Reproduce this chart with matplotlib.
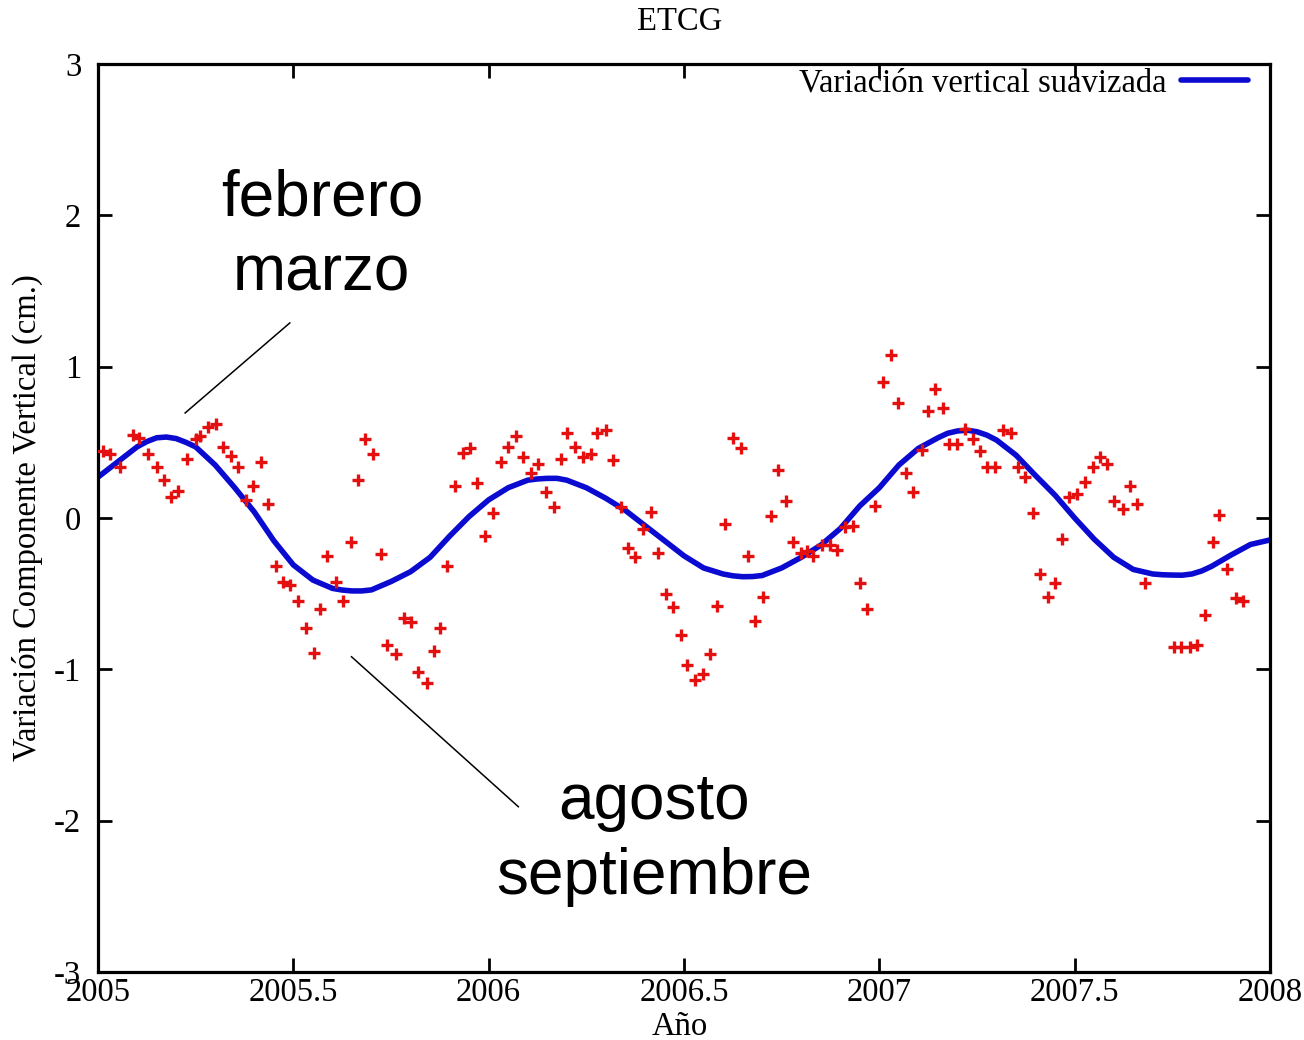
import matplotlib
matplotlib.use("Agg")
import matplotlib.pyplot as plt

# weekly vertical variation (cm)
obs_year = [
    2005.014, 2005.031, 2005.056, 2005.090, 2005.106, 2005.129, 2005.150, 2005.169,
    2005.186, 2005.206, 2005.227, 2005.251, 2005.261, 2005.282, 2005.302, 2005.321,
    2005.340, 2005.359, 2005.379, 2005.398, 2005.417, 2005.436, 2005.455, 2005.474,
    2005.491, 2005.513, 2005.532, 2005.553, 2005.568, 2005.587, 2005.609, 2005.628,
    2005.647, 2005.666, 2005.683, 2005.705, 2005.724, 2005.739, 2005.763, 2005.782,
    2005.800, 2005.820, 2005.841, 2005.860, 2005.875, 2005.894, 2005.914, 2005.934,
    2005.952, 2005.971, 2005.991, 2006.012, 2006.031, 2006.050, 2006.070, 2006.089,
    2006.108, 2006.127, 2006.147, 2006.166, 2006.184, 2006.201, 2006.221, 2006.241,
    2006.261, 2006.278, 2006.300, 2006.318, 2006.338, 2006.357, 2006.375, 2006.394,
    2006.415, 2006.434, 2006.454, 2006.473, 2006.492, 2006.508, 2006.528, 2006.548,
    2006.567, 2006.585, 2006.605, 2006.625, 2006.645, 2006.663, 2006.682, 2006.702,
    2006.722, 2006.741, 2006.761, 2006.780, 2006.799, 2006.815, 2006.831, 2006.853,
    2006.874, 2006.892, 2006.912, 2006.932, 2006.951, 2006.969, 2006.989, 2007.009,
    2007.029, 2007.049, 2007.068, 2007.087, 2007.108, 2007.125, 2007.143, 2007.162,
    2007.179, 2007.200, 2007.219, 2007.239, 2007.258, 2007.276, 2007.296, 2007.317,
    2007.336, 2007.356, 2007.373, 2007.393, 2007.411, 2007.433, 2007.450, 2007.467,
    2007.486, 2007.507, 2007.526, 2007.546, 2007.565, 2007.584, 2007.601, 2007.623,
    2007.642, 2007.660, 2007.680, 2007.753, 2007.772, 2007.794, 2007.812, 2007.834,
    2007.853, 2007.870, 2007.891, 2007.913, 2007.930,
]
obs_value = [
    0.44, 0.42, 0.34, 0.55, 0.53, 0.42, 0.34, 0.25,
    0.14, 0.18, 0.39, 0.52, 0.54, 0.60, 0.62, 0.47,
    0.41, 0.34, 0.12, 0.21, 0.37, 0.09, -0.32, -0.42,
    -0.44, -0.55, -0.73, -0.89, -0.60, -0.25, -0.42, -0.55,
    -0.16, 0.25, 0.52, 0.42, -0.24, -0.84, -0.90, -0.66,
    -0.69, -1.02, -1.09, -0.88, -0.73, -0.32, 0.21, 0.43,
    0.46, 0.23, -0.12, 0.03, 0.37, 0.47, 0.54, 0.40,
    0.30, 0.36, 0.17, 0.07, 0.39, 0.56, 0.47, 0.40,
    0.42, 0.56, 0.58, 0.38, 0.07, -0.20, -0.26, -0.07,
    0.04, -0.23, -0.50, -0.59, -0.77, -0.97, -1.07, -1.03,
    -0.90, -0.58, -0.04, 0.53, 0.46, -0.25, -0.68, -0.52,
    0.01, 0.32, 0.11, -0.16, -0.23, -0.22, -0.25, -0.18,
    -0.18, -0.21, -0.06, -0.05, -0.43, -0.60, 0.08, 0.90,
    1.08, 0.76, 0.30, 0.17, 0.45, 0.71, 0.85, 0.73,
    0.49, 0.49, 0.59, 0.52, 0.44, 0.34, 0.34, 0.58,
    0.56, 0.34, 0.27, 0.03, -0.37, -0.52, -0.43, -0.14,
    0.14, 0.16, 0.24, 0.34, 0.40, 0.36, 0.11, 0.06,
    0.21, 0.09, -0.43, -0.85, -0.85, -0.85, -0.84, -0.64,
    -0.16, 0.02, -0.34, -0.53, -0.55,
]

# smoothed curve
smooth_year = [
    2005.00, 2005.05, 2005.10, 2005.125, 2005.15, 2005.175, 2005.20, 2005.225,
    2005.25, 2005.30, 2005.35, 2005.40, 2005.45, 2005.50, 2005.55, 2005.60,
    2005.625, 2005.65, 2005.675, 2005.70, 2005.75, 2005.80, 2005.85, 2005.90,
    2005.95, 2006.00, 2006.05, 2006.10, 2006.125, 2006.15, 2006.175, 2006.20,
    2006.25, 2006.30, 2006.35, 2006.40, 2006.45, 2006.50, 2006.55, 2006.60,
    2006.625, 2006.65, 2006.675, 2006.70, 2006.75, 2006.80, 2006.85, 2006.90,
    2006.95, 2007.00, 2007.05, 2007.10, 2007.15, 2007.175, 2007.20, 2007.225,
    2007.25, 2007.275, 2007.30, 2007.35, 2007.40, 2007.45, 2007.50, 2007.55,
    2007.60, 2007.65, 2007.70, 2007.725, 2007.75, 2007.775, 2007.80, 2007.825,
    2007.85, 2007.90, 2007.95, 2008.00,
]
smooth_value = [
    0.27, 0.37, 0.47, 0.505, 0.53, 0.535, 0.525, 0.50,
    0.47, 0.35, 0.20, 0.04, -0.15, -0.31, -0.41, -0.465,
    -0.476, -0.482, -0.482, -0.475, -0.42, -0.355, -0.26, -0.12,
    0.01, 0.12, 0.20, 0.25, 0.258, 0.262, 0.262, 0.25,
    0.20, 0.13, 0.05, -0.05, -0.15, -0.25, -0.33, -0.37,
    -0.382, -0.388, -0.387, -0.38, -0.33, -0.26, -0.18, -0.07,
    0.08, 0.20, 0.35, 0.46, 0.53, 0.56, 0.575, 0.58,
    0.57, 0.548, 0.515, 0.415, 0.28, 0.15, 0.00, -0.14,
    -0.26, -0.34, -0.37, -0.375, -0.377, -0.378, -0.37, -0.35,
    -0.32, -0.245, -0.175, -0.145,
]

x_ticks = [2005, 2005.5, 2006, 2006.5, 2007, 2007.5, 2008]
x_ticklabels = ["2005", "2005.5", "2006", "2006.5", "2007", "2007.5", "2008"]
y_ticks = [-3, -2, -1, 0, 1, 2, 3]

serif = "Liberation Serif"
sans = "Liberation Sans"
fs = 23.5

fig = plt.figure(figsize=(13.04, 10.4), dpi=100)
ax = fig.add_axes([98 / 1304, 1 - 972 / 1040, 1172 / 1304, 908 / 1040])

ax.plot(smooth_year, smooth_value, color="#0a0ad0", lw=4.0,
        solid_joinstyle="round", solid_capstyle="round",
        label="Variación vertical suavizada", zorder=2)
ax.plot(obs_year, obs_value, ls="none", marker="+", ms=8, mew=2.4,
        color="#e41010", zorder=3)

ax.set_xlim(2005, 2008)
ax.set_ylim(-3, 3)
ax.set_xticks(x_ticks)
ax.set_xticklabels(x_ticklabels)
ax.set_yticks(y_ticks)
ax.set_yticklabels([str(v) for v in y_ticks])

ax.tick_params(direction="in", length=10, width=2, top=True, right=True,
               labelsize=fs)
ax.tick_params(axis="x", pad=4)
ax.tick_params(axis="y", pad=12)
for lab in ax.get_xticklabels() + ax.get_yticklabels():
    lab.set_family(serif)
for sp in ax.spines.values():
    sp.set_linewidth(2.3)

ax.set_xlabel("Año", family=serif, fontsize=fs)
ax.set_ylabel("Variación Componente Vertical (cm.)", family=serif, fontsize=fs)
ax.xaxis.set_label_coords(0.4966, -0.044)
ax.yaxis.set_label_coords(-0.047, 0.5)

fig.text(680 / 1304, 1 - 22 / 1040, "ETCG", family=serif, fontsize=fs,
         ha="center", va="center")

ax.legend(loc="upper right", bbox_to_anchor=(0.981, 0.996), frameon=False,
          markerfirst=False, borderaxespad=0, borderpad=0, handlelength=2.05,
          handletextpad=0.45, prop={"family": serif, "size": fs})

# hand-drawn style annotations
ax.text(2005.573, 1.865, "febrero\nmarzo", family=sans, fontsize=46,
        ha="center", va="center", linespacing=1.32)
ax.plot([2005.491, 2005.223], [1.289, 0.694], color="black", lw=1.1)
ax.text(2006.423, -2.125, "agosto\nseptiembre", family=sans, fontsize=46,
        ha="center", va="center", linespacing=1.32)
ax.plot([2005.649, 2006.076], [-0.917, -1.908], color="black", lw=1.1)

plt.savefig("out.png", dpi=100)
